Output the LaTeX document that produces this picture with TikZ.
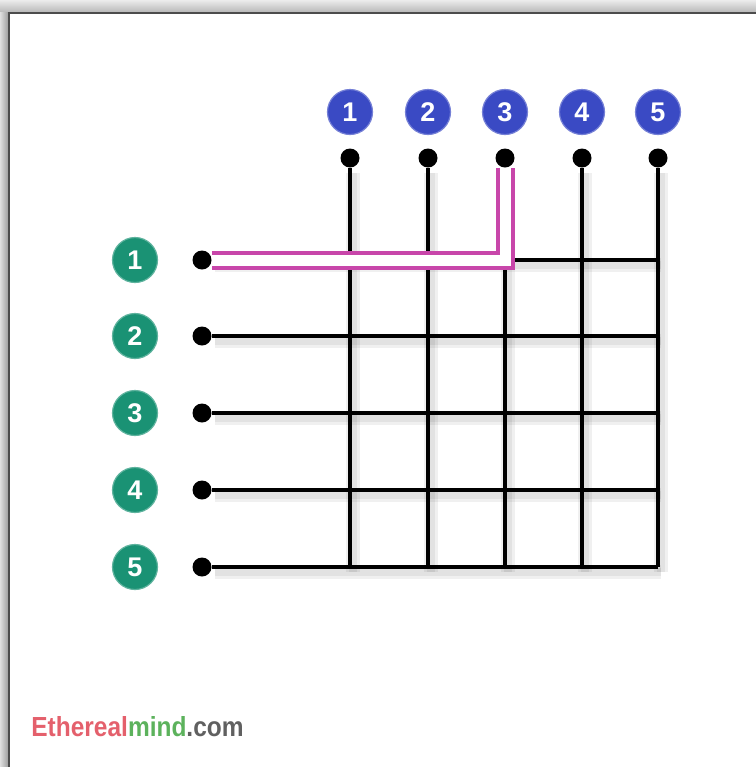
\documentclass[tikz,border=0pt]{standalone}
\usepackage{fontspec}
\setsansfont{Liberation Sans}
\usepackage{xcolor}
\definecolor{colblue}{RGB}{58,74,196}
\definecolor{rowgreen}{RGB}{26,146,116}
\definecolor{pathpink}{RGB}{200,70,170}
\definecolor{logored}{RGB}{228,96,108}
\definecolor{logogreen}{RGB}{92,178,92}
\definecolor{logogray}{RGB}{96,96,96}

\begin{document}
\begin{tikzpicture}[x=0.5pt,y=-0.5pt,
    colnum/.style={circle,fill=colblue,draw=colblue!70!white,line width=0.6pt,minimum size=22.5pt,inner sep=0pt,text=white,font=\sffamily\bfseries\fontsize{13.5}{13.5}\selectfont},
    rownum/.style={circle,fill=rowgreen,draw=rowgreen!70!white,line width=0.6pt,minimum size=22.5pt,inner sep=0pt,text=white,font=\sffamily\bfseries\fontsize{13.5}{13.5}\selectfont},
    pin/.style={circle,fill=black,minimum size=9.5pt,inner sep=0pt},
    soft/.style={draw=black,opacity=0.06,line width=#1,transform canvas={shift={(1.5pt,-2.5pt)}}},
    wire/.style={line width=1.75pt,preaction={soft=7pt},preaction={soft=4pt}}]
      \useasboundingbox (0,0) rectangle (756,767);
      % window frame
      \shade[top color=gray!15,bottom color=gray!55] (0,0) rectangle (756,12);
      \shade[left color=gray!25,right color=gray!75] (0,12) rectangle (8,767);
      \draw[gray!60!black,line width=1pt] (8.5,767) -- (8.5,12.5) -- (756,12.5);

      % column and row inputs
      \foreach \i/\x in {1/350,2/428,3/505,4/582,5/658} {
        \node[colnum] (c\i) at (\x,112) {\i};
        \node[pin] (t\i) at (\x,158) {};
        \coordinate (b\i) at (\x,567);
      }
      \foreach \i/\y in {1/260,2/336,3/413,4/490,5/567} {
        \node[rownum] (r\i) at (135,\y) {\i};
        \node[pin] (l\i) at (202,\y) {};
        \coordinate (e\i) at (658,\y);
      }

      % crossbar grid
      \foreach \i in {1,...,5} {
        \draw[wire] (t\i) -- (b\i);
        \draw[wire] (l\i) -- (e\i);
      }

      % connection row 1 -> column 3
      \draw[pathpink,line width=2pt,double=white,double distance=5.5pt] (l1) -| (t3);

      \node[anchor=west,inner sep=0pt,font=\sffamily\bfseries\fontsize{12}{12}\selectfont] (logo) at (31,727)
        {\scalebox{1.02}[1.15]{\textcolor{logored}{Ethereal}\textcolor{logogreen}{mind}\textcolor{logogray}{.com}}};
    \end{tikzpicture}
\end{document}
